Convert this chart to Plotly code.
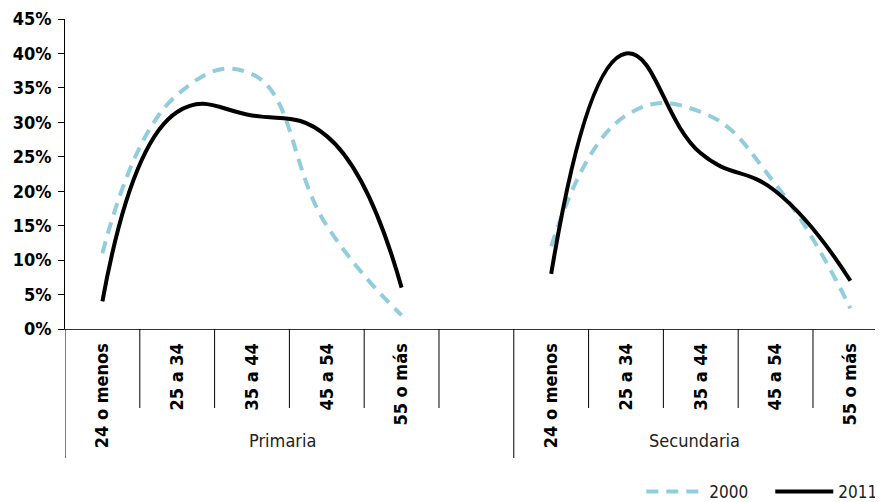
import plotly.graph_objects as go

# ---- data ----
age_groups = ["24 o menos", "25 a 34", "35 a 44", "45 a 54", "55 o más"]
levels = ["Primaria", "Secundaria"]
primaria_2000 = [11, 34, 37, 15, 2]
secundaria_2000 = [12, 31, 31.5, 21, 3]
primaria_2011 = [4, 31.5, 31, 28, 6]
secundaria_2011 = [8, 40, 25.5, 20, 7]
y_ticks = [0, 5, 10, 15, 20, 25, 30, 35, 40, 45]

# category slots: 5 Primaria + 1 empty gap + 5 Secundaria
tick_text = age_groups + [""] + age_groups
xs = list(range(len(tick_text)))
y2000 = primaria_2000 + [None] + secundaria_2000
y2011 = primaria_2011 + [None] + secundaria_2011

FONT = "DejaVu Sans Condensed, Liberation Sans Narrow, sans-serif"

fig = go.Figure()
fig.add_trace(go.Scatter(
    x=xs, y=y2000, name="2000", mode="lines",
    line=dict(color="#93CDDD", width=4, dash="12px,8px", shape="spline", smoothing=1.3),
    connectgaps=False))
fig.add_trace(go.Scatter(
    x=xs, y=y2011, name="2011", mode="lines",
    line=dict(color="#000000", width=4, shape="spline", smoothing=1.3),
    connectgaps=False))

plot_h = 310.0
short = 79 / plot_h
long_ = 129 / plot_h
shapes = []
n = len(xs)
for k in range(-1, n):
    b = k + 0.5
    is_long = (k == -1) or (k == 5) or (k == n - 1)
    shapes.append(dict(type="line", xref="x", yref="paper", x0=b, x1=b,
                       y0=0, y1=-(long_ if is_long else short),
                       line=dict(color="#000000", width=1)))

annotations = [
    dict(text=levels[0], x=2.5, y=-0.361, xref="x", yref="paper", showarrow=False,
         yanchor="middle", xshift=-7, font=dict(family=FONT, size=18, color="#222")),
    dict(text=levels[1], x=8.0, y=-0.361, xref="x", yref="paper", showarrow=False,
         yanchor="middle", xshift=-6, font=dict(family=FONT, size=18, color="#222")),
]

fig.update_layout(
    width=875, height=494,
    margin=dict(l=57, r=0, t=11, b=173, autoexpand=False),
    plot_bgcolor="white", paper_bgcolor="white",
    font=dict(family=FONT, color="#000"),
    showlegend=True,
    legend=dict(orientation="h", x=0.7045, xanchor="left", y=-0.526, yanchor="middle",
                font=dict(family=FONT, size=17, color="#222"), traceorder="normal",
                itemwidth=58, entrywidth=56, entrywidthmode="pixels"),
    shapes=shapes, annotations=annotations,
    xaxis=dict(range=[-0.5, 10.436], tickmode="array", tickvals=xs, ticktext=tick_text,
               tickangle=-90, ticks="", showgrid=False, zeroline=False,
               showline=True, linecolor="#333", linewidth=1, automargin=False,
               tickfont=dict(family=FONT, size=18, weight="bold", color="#000"),
               ticklabelstandoff=6),
    yaxis=dict(range=[0, 45], tickmode="array", tickvals=y_ticks,
               ticktext=[f"{v}%" for v in y_ticks],
               ticks="outside", ticklen=6, tickcolor="#000", showgrid=False,
               zeroline=False, showline=True, linecolor="#000", linewidth=1,
               automargin=False,
               tickfont=dict(family=FONT, size=18, weight="bold", color="#000"),
               ticklabelstandoff=3),
)

fig.write_html("out.html")
